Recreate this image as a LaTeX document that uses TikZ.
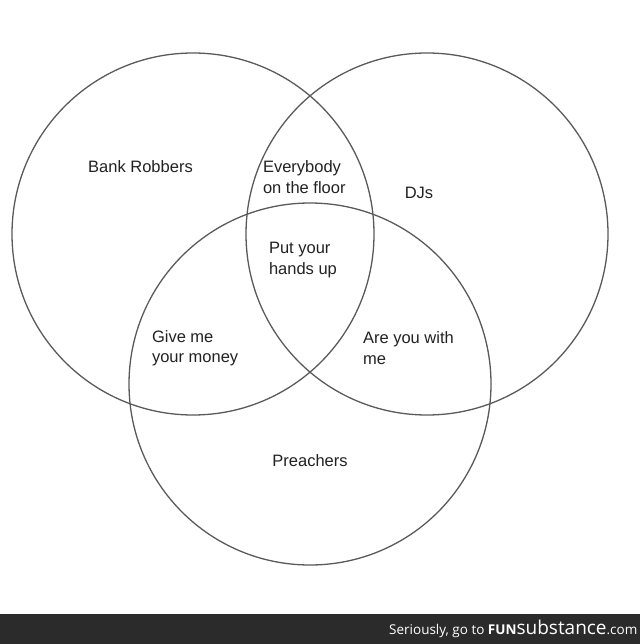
\documentclass[tikz,border=0pt]{standalone}
\usepackage{fontspec}
\setmainfont{Liberation Sans}
\newfontfamily\wmfont{Open Sans}
\definecolor{ring}{HTML}{5A5A5A}
\definecolor{ink}{HTML}{222222}
\definecolor{bar}{HTML}{2B2B2B}
\begin{document}
\begin{tikzpicture}[x=1pt,y=-1pt,
  ringstyle/.style={draw=ring,line width=1.3pt},
  lbl/.style={inner sep=0pt,outer sep=0pt,align=left,text=ink,font=\fontsize{16.5}{20.5}\selectfont}]
\useasboundingbox (0,0) rectangle (640,644);
\fill[white] (0,0) rectangle (640,644);
% circles
\node[ringstyle,circle,minimum size=362pt,inner sep=0pt] (c1) at (193,234) {};
\node[ringstyle,circle,minimum size=362pt,inner sep=0pt] (c2) at (427,234) {};
\node[ringstyle,circle,minimum size=362pt,inner sep=0pt] (c3) at (310,384) {};
% labels
\node[lbl] (br) at (140.5,167) {Bank Robbers};
\node[lbl,anchor=west] (ev) at (263,177) {Everybody\\on the floor};
\node[lbl] (dj) at (419,193) {DJs};
\node[lbl,anchor=west] (pu) at (269,260) {Put your\\hands up};
\node[lbl,anchor=west] (gm) at (152,348) {Give me\\your money};
\node[lbl,anchor=west] (ay) at (363,348) {Are you with\\me};
\node[lbl] (pr) at (310,461) {Preachers};
% watermark bar
\fill[bar] (0,614) rectangle (640,644);
\node[inner sep=0pt,anchor=base west,text=white] (wm) at (389,634)
  {\wmfont\fontsize{13.5}{14}\selectfont Seriously, go to {\bfseries FUN}{\fontsize{19}{20}\selectfont substance}.com};
\end{tikzpicture}
\end{document}
